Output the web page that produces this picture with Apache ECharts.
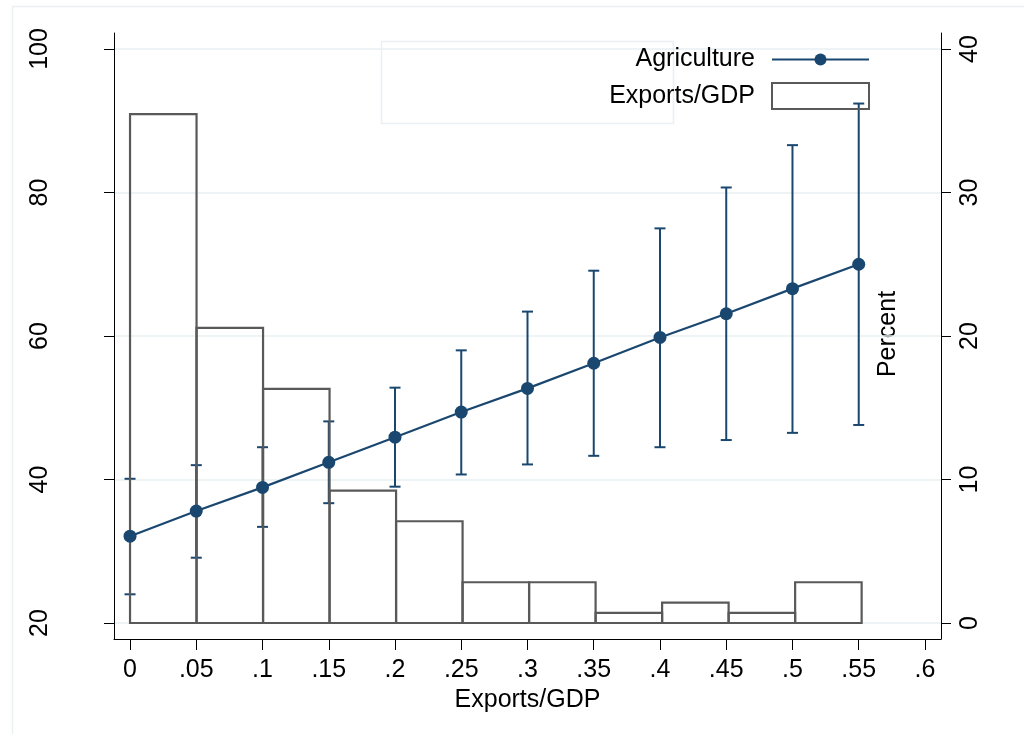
<!DOCTYPE html>
<html>
<head>
<meta charset="utf-8">
<title>Agriculture vs Exports/GDP</title>
<script src="https://cdn.jsdelivr.net/npm/echarts@6/dist/echarts.min.js"></script>
<style>
  html, body { margin: 0; padding: 0; background: #fff; }
  #chart { width: 1024px; height: 734px; }
</style>
</head>
<body>
<div id="chart"></div>
<script>
// x positions of the fitted points (Exports/GDP)
var xVals = [0, 0.05, 0.1, 0.15, 0.2, 0.25, 0.3, 0.35, 0.4, 0.45, 0.5, 0.55];
// Agriculture: fitted value and confidence band
var agriMean = [32.1, 35.6, 38.9, 42.4, 45.9, 49.4, 52.7, 56.2, 59.8, 63.1, 66.6, 70.0];
var agriLow  = [24.0, 29.1, 33.4, 36.7, 39.0, 40.7, 42.1, 43.3, 44.5, 45.5, 46.5, 47.6];
var agriHigh = [40.1, 42.0, 44.5, 48.1, 52.8, 58.0, 63.4, 69.1, 75.0, 80.7, 86.6, 92.4];
// histogram of Exports/GDP (percent per bin)
var binEdges = [0, 0.0502, 0.1004, 0.1506, 0.2008, 0.251, 0.3012, 0.3514, 0.4016, 0.4518, 0.502, 0.5522];
var binPct = [35.46, 20.57, 16.31, 9.22, 7.09, 2.84, 2.84, 0.71, 1.42, 0.71, 2.84];
// tick labels
var xTicks = [0, 0.05, 0.1, 0.15, 0.2, 0.25, 0.3, 0.35, 0.4, 0.45, 0.5, 0.55, 0.6];

var navy = '#1a476f';
var gray = '#595959';
var light = '#e8f0f2';
var font = 'Liberation Sans, Arial, sans-serif';

var lineData = xVals.map(function (x, i) { return [x, agriMean[i]]; });
var errData = xVals.map(function (x, i) { return [x, agriLow[i], agriHigh[i]]; });
var histData = binPct.map(function (p, i) { return [binEdges[i], binEdges[i + 1], p]; });

function fmtX(v) {
  if (v === 0) return '0';
  return String(+v.toFixed(2)).replace(/^0/, '');
}

var chart = echarts.init(document.getElementById('chart'));
var option = {
  backgroundColor: '#fff',
  animation: false,
  textStyle: { fontFamily: font },
  grid: [
    { left: 114, right: 83, top: 49, bottom: 111 },
    { left: 114, right: 83, top: 33, bottom: 95 }
  ],
  legend: [
    {
      data: [{ name: 'Agriculture' }],
      right: 154, top: 47, padding: 0, align: 'right',
      itemWidth: 97, itemHeight: 15,
      textStyle: { fontSize: 25, color: '#000', fontFamily: font, padding: [0, 12, 0, 0] },
      selectedMode: false
    },
    {
      data: [{ name: 'Exports/GDP', icon: 'rect',
        itemStyle: { color: 'rgba(0,0,0,0)', borderColor: gray, borderWidth: 2 } }],
      right: 154, top: 82, padding: 0, align: 'right',
      itemWidth: 97, itemHeight: 26,
      textStyle: { fontSize: 25, color: '#000', fontFamily: font, padding: [0, 12, 0, 0] },
      selectedMode: false
    }
  ],
  xAxis: [
    {
      type: 'value', gridIndex: 0, min: -0.0121, max: 0.6121, offset: 16,
      name: 'Exports/GDP', nameLocation: 'middle', nameGap: 42,
      nameTextStyle: { fontSize: 25, color: '#000', fontFamily: font },
      axisLine: { show: true, onZero: false, lineStyle: { color: '#000', width: 1 } },
      axisTick: { show: true, length: 11, customValues: xTicks, lineStyle: { color: '#000' } },
      axisLabel: { customValues: xTicks, formatter: fmtX, fontSize: 25, color: '#000', margin: 19, fontFamily: font },
      splitLine: { show: false }
    },
    { type: 'value', gridIndex: 1, min: 0, max: 1, show: false }
  ],
  yAxis: [
    {
      type: 'value', gridIndex: 0, position: 'left', min: 20, max: 100, interval: 20,
      axisLine: { show: false, onZero: false },
      axisTick: { show: true, length: 10, lineStyle: { color: '#000' } },
      axisLabel: { rotate: 90, fontSize: 25, color: '#000', margin: 61, fontFamily: font },
      splitLine: { show: true, lineStyle: { color: light, width: 1.5 } }
    },
    {
      type: 'value', gridIndex: 0, position: 'right', min: 0, max: 40, interval: 10,
      axisLine: { show: false, onZero: false },
      axisTick: { show: true, length: 10, lineStyle: { color: '#000' } },
      axisLabel: { rotate: 90, fontSize: 25, color: '#000', margin: 17, fontFamily: font },
      splitLine: { show: false }
    },
    {
      type: 'value', gridIndex: 1, position: 'left', min: 0, max: 1,
      axisLine: { show: true, onZero: false, lineStyle: { color: '#000', width: 1 } },
      axisTick: { show: false }, axisLabel: { show: false }, splitLine: { show: false }
    },
    {
      type: 'value', gridIndex: 1, position: 'right', min: 0, max: 1,
      axisLine: { show: true, onZero: false, lineStyle: { color: '#000', width: 1 } },
      axisTick: { show: false }, axisLabel: { show: false }, splitLine: { show: false }
    }
  ],
  graphic: [
    { type: 'rect', silent: true, z: -1,
      shape: { x: 12.5, y: 6.5, width: 1100, height: 800 },
      style: { fill: 'none', stroke: light, lineWidth: 1.5 } },
    { type: 'rect', silent: true, z: -1,
      shape: { x: 381.5, y: 41.5, width: 292, height: 82 },
      style: { fill: 'none', stroke: light, lineWidth: 1.5 } },
    { type: 'text', silent: true, x: 888, y: 334, rotation: Math.PI / 2,
      style: { text: 'Percent', font: '25px ' + font, fill: '#000',
        textAlign: 'center', textVerticalAlign: 'middle' } }
  ],
  series: [
    {
      name: 'ci', type: 'custom', xAxisIndex: 0, yAxisIndex: 0, z: 1,
      encode: { x: 0, y: [1, 2] },
      data: errData,
      renderItem: function (params, api) {
        var lo = api.coord([api.value(0), api.value(1)]);
        var hi = api.coord([api.value(0), api.value(2)]);
        var w = 5.5;
        var st = { stroke: navy, lineWidth: 2 };
        return {
          type: 'group',
          children: [
            { type: 'line', shape: { x1: lo[0], y1: lo[1], x2: hi[0], y2: hi[1] }, style: st },
            { type: 'line', shape: { x1: lo[0] - w, y1: lo[1], x2: lo[0] + w, y2: lo[1] }, style: st },
            { type: 'line', shape: { x1: hi[0] - w, y1: hi[1], x2: hi[0] + w, y2: hi[1] }, style: st }
          ]
        };
      }
    },
    {
      name: 'Exports/GDP', type: 'custom', xAxisIndex: 0, yAxisIndex: 1, z: 2,
      encode: { x: [0, 1], y: 2 },
      itemStyle: { color: 'rgba(0,0,0,0)', borderColor: gray, borderWidth: 2 },
      data: histData,
      renderItem: function (params, api) {
        var p0 = api.coord([api.value(0), 0]);
        var p1 = api.coord([api.value(1), api.value(2)]);
        return {
          type: 'rect',
          shape: { x: p0[0], y: p1[1], width: p1[0] - p0[0], height: p0[1] - p1[1] },
          style: { fill: 'none', stroke: gray, lineWidth: 2.2 }
        };
      }
    },
    {
      name: 'Agriculture', type: 'line', xAxisIndex: 0, yAxisIndex: 0, z: 3,
      data: lineData,
      symbol: 'circle', symbolSize: 13,
      itemStyle: { color: navy },
      lineStyle: { color: navy, width: 2.2 }
    }
  ]
};
chart.setOption(option);
</script>
</body>
</html>
